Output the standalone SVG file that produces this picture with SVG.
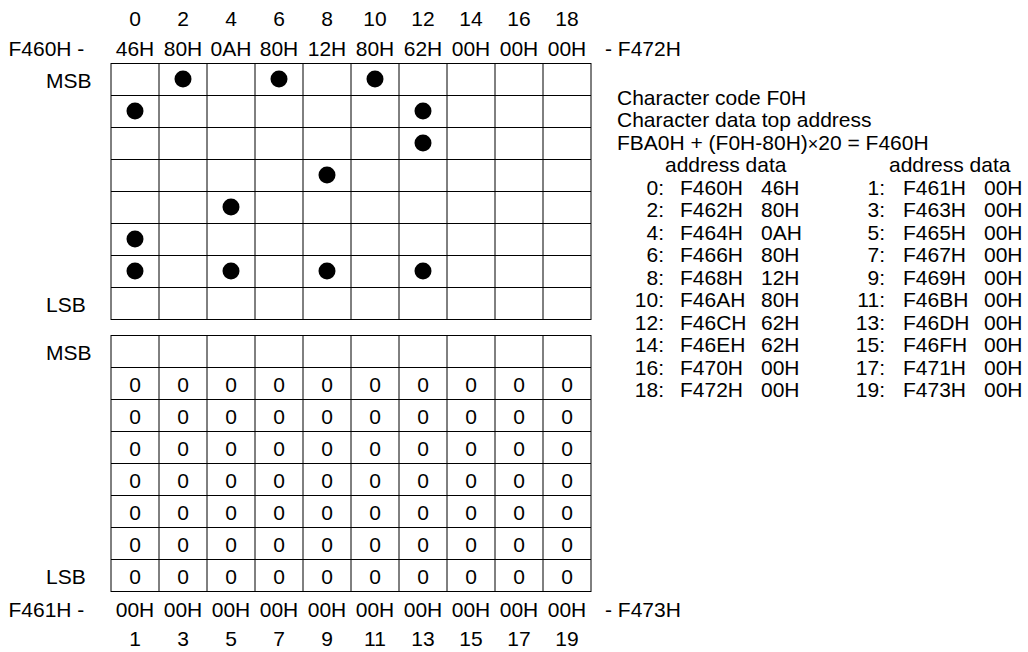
<svg xmlns="http://www.w3.org/2000/svg" width="1028" height="652" viewBox="0 0 1028 652">
<style>
text{font-family:"Liberation Sans",Arial,sans-serif;font-size:21px;fill:#000}
.c{text-anchor:middle}
.e{text-anchor:end}
.v{stroke:#000;stroke-width:1}
.h{stroke:#000;stroke-width:1.2}
.dot{fill:#000}
</style>
<rect width="1028" height="652" fill="#fff"/>
<g id="header-top">
<text class="c" x="135" y="26">0</text><text class="c" x="183" y="26">2</text><text class="c" x="231" y="26">4</text><text class="c" x="279" y="26">6</text><text class="c" x="327" y="26">8</text><text class="c" x="375" y="26">10</text><text class="c" x="423" y="26">12</text><text class="c" x="471" y="26">14</text><text class="c" x="519" y="26">16</text><text class="c" x="567" y="26">18</text>
<text x="8.5" y="56">F460H -</text>
<text class="c" x="135" y="56">46H</text><text class="c" x="183" y="56">80H</text><text class="c" x="231" y="56">0AH</text><text class="c" x="279" y="56">80H</text><text class="c" x="327" y="56">12H</text><text class="c" x="375" y="56">80H</text><text class="c" x="423" y="56">62H</text><text class="c" x="471" y="56">00H</text><text class="c" x="519" y="56">00H</text><text class="c" x="567" y="56">00H</text>
<text x="605" y="56">- F472H</text>
</g>
<g id="grid-top">
<text x="46" y="87.5">MSB</text>
<text x="46" y="311.5">LSB</text>
<g class="h">
<line x1="111" y1="63.5" x2="591" y2="63.5"/><line x1="111" y1="95.5" x2="591" y2="95.5"/><line x1="111" y1="127.5" x2="591" y2="127.5"/><line x1="111" y1="159.5" x2="591" y2="159.5"/><line x1="111" y1="191.5" x2="591" y2="191.5"/><line x1="111" y1="223.5" x2="591" y2="223.5"/><line x1="111" y1="255.5" x2="591" y2="255.5"/><line x1="111" y1="287.5" x2="591" y2="287.5"/><line x1="111" y1="319.5" x2="591" y2="319.5"/>
</g>
<g class="v">
<line x1="111" y1="63" x2="111" y2="320"/><line x1="159" y1="63" x2="159" y2="320"/><line x1="207" y1="63" x2="207" y2="320"/><line x1="255" y1="63" x2="255" y2="320"/><line x1="303" y1="63" x2="303" y2="320"/><line x1="351" y1="63" x2="351" y2="320"/><line x1="399" y1="63" x2="399" y2="320"/><line x1="447" y1="63" x2="447" y2="320"/><line x1="495" y1="63" x2="495" y2="320"/><line x1="543" y1="63" x2="543" y2="320"/><line x1="591" y1="63" x2="591" y2="320"/>
</g>
<g class="dot">
<circle cx="183" cy="79" r="8.5"/><circle cx="279" cy="79" r="8.5"/><circle cx="375" cy="79" r="8.5"/>
<circle cx="135" cy="111" r="8.5"/><circle cx="423" cy="111" r="8.5"/>
<circle cx="423" cy="143" r="8.5"/>
<circle cx="327" cy="175" r="8.5"/>
<circle cx="231" cy="207" r="8.5"/>
<circle cx="135" cy="239" r="8.5"/>
<circle cx="135" cy="271" r="8.5"/><circle cx="231" cy="271" r="8.5"/><circle cx="327" cy="271" r="8.5"/><circle cx="423" cy="271" r="8.5"/>
</g>
</g>
<g id="grid-bottom">
<text x="46" y="359.5">MSB</text>
<text x="46" y="583.5">LSB</text>
<g class="h">
<line x1="111" y1="335.5" x2="591" y2="335.5"/><line x1="111" y1="367.5" x2="591" y2="367.5"/><line x1="111" y1="399.5" x2="591" y2="399.5"/><line x1="111" y1="431.5" x2="591" y2="431.5"/><line x1="111" y1="463.5" x2="591" y2="463.5"/><line x1="111" y1="495.5" x2="591" y2="495.5"/><line x1="111" y1="527.5" x2="591" y2="527.5"/><line x1="111" y1="559.5" x2="591" y2="559.5"/><line x1="111" y1="591.5" x2="591" y2="591.5"/>
</g>
<g class="v">
<line x1="111" y1="335" x2="111" y2="592"/><line x1="159" y1="335" x2="159" y2="592"/><line x1="207" y1="335" x2="207" y2="592"/><line x1="255" y1="335" x2="255" y2="592"/><line x1="303" y1="335" x2="303" y2="592"/><line x1="351" y1="335" x2="351" y2="592"/><line x1="399" y1="335" x2="399" y2="592"/><line x1="447" y1="335" x2="447" y2="592"/><line x1="495" y1="335" x2="495" y2="592"/><line x1="543" y1="335" x2="543" y2="592"/><line x1="591" y1="335" x2="591" y2="592"/>
</g>
<g class="c">
<text class="c" x="135" y="391.5">0</text><text class="c" x="183" y="391.5">0</text><text class="c" x="231" y="391.5">0</text><text class="c" x="279" y="391.5">0</text><text class="c" x="327" y="391.5">0</text><text class="c" x="375" y="391.5">0</text><text class="c" x="423" y="391.5">0</text><text class="c" x="471" y="391.5">0</text><text class="c" x="519" y="391.5">0</text><text class="c" x="567" y="391.5">0</text>
<text class="c" x="135" y="423.5">0</text><text class="c" x="183" y="423.5">0</text><text class="c" x="231" y="423.5">0</text><text class="c" x="279" y="423.5">0</text><text class="c" x="327" y="423.5">0</text><text class="c" x="375" y="423.5">0</text><text class="c" x="423" y="423.5">0</text><text class="c" x="471" y="423.5">0</text><text class="c" x="519" y="423.5">0</text><text class="c" x="567" y="423.5">0</text>
<text class="c" x="135" y="455.5">0</text><text class="c" x="183" y="455.5">0</text><text class="c" x="231" y="455.5">0</text><text class="c" x="279" y="455.5">0</text><text class="c" x="327" y="455.5">0</text><text class="c" x="375" y="455.5">0</text><text class="c" x="423" y="455.5">0</text><text class="c" x="471" y="455.5">0</text><text class="c" x="519" y="455.5">0</text><text class="c" x="567" y="455.5">0</text>
<text class="c" x="135" y="487.5">0</text><text class="c" x="183" y="487.5">0</text><text class="c" x="231" y="487.5">0</text><text class="c" x="279" y="487.5">0</text><text class="c" x="327" y="487.5">0</text><text class="c" x="375" y="487.5">0</text><text class="c" x="423" y="487.5">0</text><text class="c" x="471" y="487.5">0</text><text class="c" x="519" y="487.5">0</text><text class="c" x="567" y="487.5">0</text>
<text class="c" x="135" y="519.5">0</text><text class="c" x="183" y="519.5">0</text><text class="c" x="231" y="519.5">0</text><text class="c" x="279" y="519.5">0</text><text class="c" x="327" y="519.5">0</text><text class="c" x="375" y="519.5">0</text><text class="c" x="423" y="519.5">0</text><text class="c" x="471" y="519.5">0</text><text class="c" x="519" y="519.5">0</text><text class="c" x="567" y="519.5">0</text>
<text class="c" x="135" y="551.5">0</text><text class="c" x="183" y="551.5">0</text><text class="c" x="231" y="551.5">0</text><text class="c" x="279" y="551.5">0</text><text class="c" x="327" y="551.5">0</text><text class="c" x="375" y="551.5">0</text><text class="c" x="423" y="551.5">0</text><text class="c" x="471" y="551.5">0</text><text class="c" x="519" y="551.5">0</text><text class="c" x="567" y="551.5">0</text>
<text class="c" x="135" y="583.5">0</text><text class="c" x="183" y="583.5">0</text><text class="c" x="231" y="583.5">0</text><text class="c" x="279" y="583.5">0</text><text class="c" x="327" y="583.5">0</text><text class="c" x="375" y="583.5">0</text><text class="c" x="423" y="583.5">0</text><text class="c" x="471" y="583.5">0</text><text class="c" x="519" y="583.5">0</text><text class="c" x="567" y="583.5">0</text>
</g>
</g>
<g id="footer-bottom">
<text x="8.5" y="617">F461H -</text>
<text class="c" x="135" y="617">00H</text><text class="c" x="183" y="617">00H</text><text class="c" x="231" y="617">00H</text><text class="c" x="279" y="617">00H</text><text class="c" x="327" y="617">00H</text><text class="c" x="375" y="617">00H</text><text class="c" x="423" y="617">00H</text><text class="c" x="471" y="617">00H</text><text class="c" x="519" y="617">00H</text><text class="c" x="567" y="617">00H</text>
<text x="605" y="617">- F473H</text>
<text class="c" x="135" y="646">1</text><text class="c" x="183" y="646">3</text><text class="c" x="231" y="646">5</text><text class="c" x="279" y="646">7</text><text class="c" x="327" y="646">9</text><text class="c" x="375" y="646">11</text><text class="c" x="423" y="646">13</text><text class="c" x="471" y="646">15</text><text class="c" x="519" y="646">17</text><text class="c" x="567" y="646">19</text>
</g>
<g id="info">
<text x="617" y="104.5">Character code F0H</text>
<text x="617" y="127">Character data top address</text>
<text x="617" y="149.5">FBA0H + (F0H-80H)<tspan font-size="18">×</tspan>20 = F460H</text>
<text x="665" y="172">address data</text>
<text x="889" y="172">address data</text>
</g>
<g id="table-even">
<text class="e" x="664" y="194.5">0:</text><text x="680" y="194.5">F460H</text><text x="761" y="194.5">46H</text>
<text class="e" x="664" y="217">2:</text><text x="680" y="217">F462H</text><text x="761" y="217">80H</text>
<text class="e" x="664" y="239.5">4:</text><text x="680" y="239.5">F464H</text><text x="761" y="239.5">0AH</text>
<text class="e" x="664" y="262">6:</text><text x="680" y="262">F466H</text><text x="761" y="262">80H</text>
<text class="e" x="664" y="284.5">8:</text><text x="680" y="284.5">F468H</text><text x="761" y="284.5">12H</text>
<text class="e" x="664" y="307">10:</text><text x="680" y="307">F46AH</text><text x="761" y="307">80H</text>
<text class="e" x="664" y="329.5">12:</text><text x="680" y="329.5">F46CH</text><text x="761" y="329.5">62H</text>
<text class="e" x="664" y="352">14:</text><text x="680" y="352">F46EH</text><text x="761" y="352">62H</text>
<text class="e" x="664" y="374.5">16:</text><text x="680" y="374.5">F470H</text><text x="761" y="374.5">00H</text>
<text class="e" x="664" y="397">18:</text><text x="680" y="397">F472H</text><text x="761" y="397">00H</text>
</g>
<g id="table-odd">
<text class="e" x="885" y="194.5">1:</text><text x="903" y="194.5">F461H</text><text x="984" y="194.5">00H</text>
<text class="e" x="885" y="217">3:</text><text x="903" y="217">F463H</text><text x="984" y="217">00H</text>
<text class="e" x="885" y="239.5">5:</text><text x="903" y="239.5">F465H</text><text x="984" y="239.5">00H</text>
<text class="e" x="885" y="262">7:</text><text x="903" y="262">F467H</text><text x="984" y="262">00H</text>
<text class="e" x="885" y="284.5">9:</text><text x="903" y="284.5">F469H</text><text x="984" y="284.5">00H</text>
<text class="e" x="885" y="307">11:</text><text x="903" y="307">F46BH</text><text x="984" y="307">00H</text>
<text class="e" x="885" y="329.5">13:</text><text x="903" y="329.5">F46DH</text><text x="984" y="329.5">00H</text>
<text class="e" x="885" y="352">15:</text><text x="903" y="352">F46FH</text><text x="984" y="352">00H</text>
<text class="e" x="885" y="374.5">17:</text><text x="903" y="374.5">F471H</text><text x="984" y="374.5">00H</text>
<text class="e" x="885" y="397">19:</text><text x="903" y="397">F473H</text><text x="984" y="397">00H</text>
</g>
</svg>
